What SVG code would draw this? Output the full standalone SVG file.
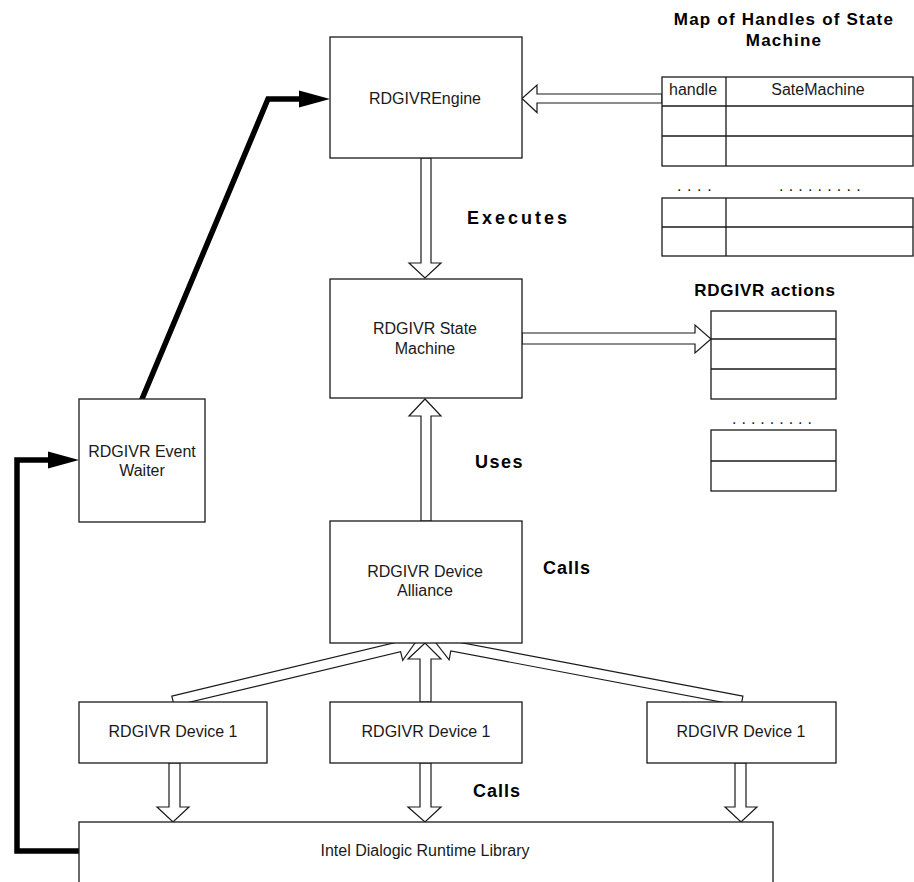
<svg xmlns="http://www.w3.org/2000/svg" width="914" height="882" viewBox="0 0 914 882">
  <style>
    .box { fill: #ffffff; stroke: #1a1a1a; stroke-width: 1.3; }
    .grid { fill: none; stroke: #1a1a1a; stroke-width: 1.3; }
    .fat { fill: #ffffff; stroke: #1a1a1a; stroke-width: 1.2; stroke-linejoin: miter; }
    .thick { fill: none; stroke: #000000; stroke-width: 5.5; stroke-linejoin: miter; stroke-linecap: round; }
    .lbl { font-family: "Liberation Sans", Arial, sans-serif; font-size: 16px; fill: #1a1a1a; text-anchor: middle; }
    .cell { font-family: "Liberation Sans", Arial, sans-serif; font-size: 16px; fill: #1a1a1a; }
    .head { font-family: "Liberation Sans", Arial, sans-serif; font-size: 18px; font-weight: bold; fill: #000000; }
    .title { font-family: "Liberation Sans", Arial, sans-serif; font-size: 17px; font-weight: bold; fill: #000000; text-anchor: middle; letter-spacing: 1.2px; }
    .dots { font-family: "Liberation Sans", Arial, sans-serif; font-size: 16px; fill: #1a1a1a; }
  </style>
  <defs>
    <marker id="bold-head" markerUnits="userSpaceOnUse" markerWidth="32" markerHeight="20" refX="0" refY="9" orient="auto">
      <polygon points="0,0.5 31,9 0,17.5" fill="#000000"/>
    </marker>
  </defs>

  <rect width="914" height="882" fill="#ffffff"/>

  <!-- connectors -->
  <g id="connectors">
    <!-- event waiter signals the engine -->
    <polyline class="thick" points="142,399 268,99 299,99" marker-end="url(#bold-head)"/>
    <!-- runtime library wakes the event waiter -->
    <polyline class="thick" points="80,851 17,851 17,460 48,460" marker-end="url(#bold-head)"/>

    <!-- handle map -> engine -->
    <polygon class="fat" points="662,94 537,94 537,85 522,98.5 537,112.5 537,103 662,103"/>
    <!-- engine executes state machine -->
    <polygon class="fat" points="421,158 421,263 409,263 425,278 441,263 431,263 431,158"/>
    <!-- state machine -> actions -->
    <polygon class="fat" points="522,333 695,333 695,325 711,339 695,353 695,344 522,344"/>
    <!-- device alliance used by state machine -->
    <polygon class="fat" points="421,521 421,416 409,416 425,399 441,416 431,416 431,521"/>

    <!-- devices call the device alliance -->
    <polygon class="fat" points="171.8,696.1 398.3,641.9 396.2,633.1 415,643 402.7,660.3 400.6,651.6 174.2,705.9"/>
    <polygon class="fat" points="420,702 420,659 408,659 425,643 441,659 431,659 431,702"/>
    <polygon class="fat" points="742.9,696.1 452.6,641.1 454.3,632.2 436,643 449.1,659.8 450.8,650.9 741.1,705.9"/>

    <!-- devices call the runtime library -->
    <polygon class="fat" points="169,763 169,807 157,807 173,822 189,807 180,807 180,763"/>
    <polygon class="fat" points="420,763 420,807 408,807 425,822 441,807 431,807 431,763"/>
    <polygon class="fat" points="735,763 735,807 725,807 741,822 757,807 746,807 746,763"/>
  </g>

  <!-- edge labels -->
  <text class="head" x="467" y="224" style="letter-spacing:3px">Executes</text>
  <text class="head" x="475" y="468" style="letter-spacing:1.5px">Uses</text>
  <text class="head" x="543" y="574" style="letter-spacing:1px">Calls</text>
  <text class="head" x="473" y="797" style="letter-spacing:1px">Calls</text>

  <!-- nodes -->
  <g id="engine">
    <rect class="box" x="330" y="37" width="192" height="121"/>
    <text class="lbl" x="425" y="104">RDGIVREngine</text>
  </g>

  <g id="state-machine">
    <rect class="box" x="330" y="279" width="192" height="119"/>
    <text class="lbl" x="425" y="334">RDGIVR State</text>
    <text class="lbl" x="425" y="354">Machine</text>
  </g>

  <g id="device-alliance">
    <rect class="box" x="330" y="521" width="192" height="122"/>
    <text class="lbl" x="425" y="577">RDGIVR Device</text>
    <text class="lbl" x="425" y="596">Alliance</text>
  </g>

  <g id="event-waiter">
    <rect class="box" x="79" y="399" width="126" height="123"/>
    <text class="lbl" x="142" y="457">RDGIVR Event</text>
    <text class="lbl" x="142" y="476">Waiter</text>
  </g>

  <g id="device-left">
    <rect class="box" x="79" y="702" width="188" height="61"/>
    <text class="lbl" x="173" y="737">RDGIVR Device 1</text>
  </g>

  <g id="device-middle">
    <rect class="box" x="330" y="702" width="192" height="61"/>
    <text class="lbl" x="426" y="737">RDGIVR Device 1</text>
  </g>

  <g id="device-right">
    <rect class="box" x="647" y="702" width="189" height="61"/>
    <text class="lbl" x="741" y="737">RDGIVR Device 1</text>
  </g>

  <g id="runtime-library">
    <rect class="box" x="79" y="822" width="694" height="70"/>
    <text class="lbl" x="425" y="856">Intel Dialogic Runtime Library</text>
  </g>

  <g id="handle-map">
    <text class="title" x="784" y="25">Map of Handles of State</text>
    <text class="title" x="784" y="46">Machine</text>
    <rect class="box" x="662" y="77" width="251" height="89"/>
    <path class="grid" d="M662,106 H913 M662,136 H913 M726,77 V166"/>
    <text class="cell" x="669" y="95">handle</text>
    <text class="lbl" x="818" y="95">SateMachine</text>
    <text class="dots" x="677" y="191" style="letter-spacing:5.6px">....</text>
    <text class="dots" x="779" y="191" style="letter-spacing:5.2px">.........</text>
    <rect class="box" x="662" y="198" width="251" height="58"/>
    <path class="grid" d="M662,227 H913 M726,198 V256"/>
  </g>

  <g id="actions">
    <text class="title" x="765" y="296" style="letter-spacing:0.8px">RDGIVR actions</text>
    <rect class="box" x="711" y="311" width="125" height="88"/>
    <path class="grid" d="M711,339 H836 M711,369 H836"/>
    <text class="dots" x="732" y="424" style="letter-spacing:5px">.........</text>
    <rect class="box" x="711" y="430" width="125" height="61"/>
    <path class="grid" d="M711,461 H836"/>
  </g>
</svg>
